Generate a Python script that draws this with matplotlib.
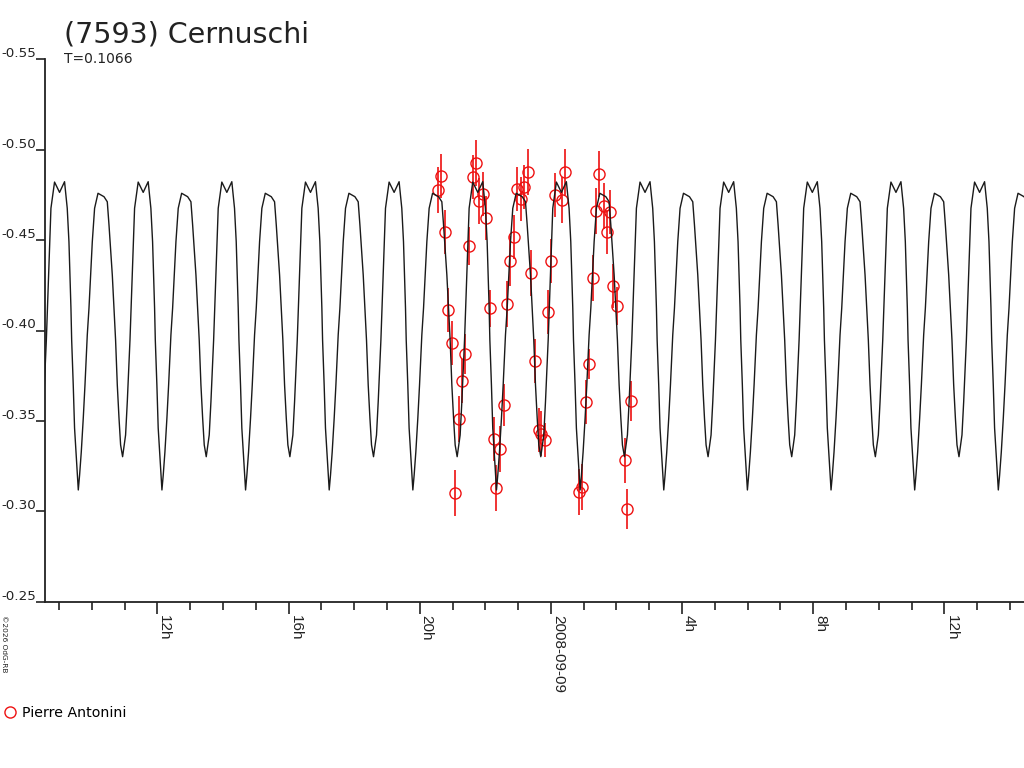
import numpy as np
import matplotlib
matplotlib.use("Agg")
import matplotlib.pyplot as plt
from matplotlib.transforms import blended_transform_factory

# observations (hours from 2008-09-08 0h, relative magnitude, error)
obs_hours = [20.659, 20.567, 20.780, 20.872, 20.994, 21.396, 21.290, 21.189, 21.091,
             21.512, 21.616, 21.726, 21.814, 21.939, 22.030, 22.143, 22.250, 22.448,
             22.341, 22.570, 22.667, 22.768, 22.875, 22.960, 23.088, 23.189, 23.287,
             23.393, 23.500, 23.622, 23.713, 23.829, 23.921, 24.018, 24.131, 24.329,
             24.439, 24.851, 24.957, 25.064, 25.168, 25.274, 25.381, 25.476, 25.613,
             25.817, 25.716, 25.902, 26.021, 26.448, 26.244, 26.335]
obs_mag = [-0.4856, -0.4779, -0.4543, -0.4115, -0.3933, -0.3869, -0.3721, -0.3509, -0.3100,
           -0.4466, -0.4847, -0.4925, -0.4715, -0.4753, -0.4622, -0.4122, -0.3398, -0.3347,
           -0.3127, -0.3587, -0.4146, -0.4384, -0.4516, -0.4784, -0.4726, -0.4793, -0.4878,
           -0.4318, -0.3830, -0.3449, -0.3430, -0.3393, -0.4104, -0.4383, -0.4751, -0.4722,
           -0.4878, -0.3105, -0.3133, -0.3603, -0.3813, -0.4290, -0.4660, -0.4868, -0.4691,
           -0.4655, -0.4546, -0.4246, -0.4133, -0.3609, -0.3281, -0.3011]
obs_err = [0.0122, 0.0127, 0.0122, 0.0122, 0.0122, 0.0110, 0.0122, 0.0127, 0.0127,
           0.0105, 0.0122, 0.0127, 0.0127, 0.0122, 0.0122, 0.0100, 0.0122, 0.0127,
           0.0127, 0.0116, 0.0127, 0.0138, 0.0122, 0.0122, 0.0122, 0.0122, 0.0127,
           0.0127, 0.0122, 0.0122, 0.0122, 0.0094, 0.0122, 0.0122, 0.0122, 0.0127,
           0.0127, 0.0127, 0.0127, 0.0122, 0.0083, 0.0127, 0.0127, 0.0127, 0.0127,
           0.0122, 0.0122, 0.0122, 0.0105, 0.0110, 0.0122, 0.0110]

# fitted lightcurve: one cycle, starting at the deep minimum
period = 2.550
t0 = 9.591
profile_dt = [0.000, 0.040, 0.091, 0.152, 0.204, 0.274, 0.326, 0.375, 0.427, 0.497,
              0.601, 0.784, 0.884, 0.936, 1.037, 1.088, 1.137, 1.189, 1.241, 1.290,
              1.351, 1.442, 1.494, 1.576, 1.646, 1.716, 1.826, 1.979, 2.131, 2.213,
              2.265, 2.296, 2.326, 2.348, 2.396, 2.436, 2.479, 2.518]
profile_mag = [-0.3118, -0.3201, -0.3328, -0.3516, -0.3699, -0.3975, -0.4124, -0.4307,
               -0.4491, -0.4676, -0.4759, -0.4740, -0.4712, -0.4584, -0.4307, -0.4124,
               -0.3947, -0.3699, -0.3516, -0.3367, -0.3302, -0.3422, -0.3606, -0.3947,
               -0.4307, -0.4676, -0.4821, -0.4764, -0.4823, -0.4676, -0.4491, -0.4307,
               -0.4124, -0.3947, -0.3699, -0.3461, -0.3328, -0.3201]

major_hours = [12, 16, 20, 24, 28, 32, 36]
major_labels = ['12h', '16h', '20h', '2008-09-09', '4h', '8h', '12h']
y_values = [-0.55, -0.50, -0.45, -0.40, -0.35, -0.30, -0.25]
observer = 'Pierre Antonini'

plt.rcParams['font.family'] = ['DejaVu Sans']
fig = plt.figure(figsize=(10.24, 7.68), dpi=100)
ax = fig.add_axes([45 / 1024, 1 - 601.7 / 768, 979 / 1024, 542.4 / 768])

cycles = np.arange(-1, 13)
curve_t = (t0 + period * cycles[:, None] + np.array(profile_dt)[None, :]).ravel()
curve_m = np.tile(profile_mag, len(cycles))
ax.plot(curve_t, curve_m, color='#1a1a1a', lw=1.0, zorder=3)

eb = ax.errorbar(obs_hours, obs_mag, yerr=obs_err, fmt='o', ms=8, mfc='none',
                 mec='#ee1111', mew=1.0, ecolor='#ee1111', elinewidth=1.2,
                 capsize=0, zorder=2)

ax.set_xlim(8.576, 38.424)
ax.set_ylim(-0.25, -0.55)

for s in ['top', 'right']:
    ax.spines[s].set_visible(False)
for s in ['left', 'bottom']:
    ax.spines[s].set_color('#222222')
    ax.spines[s].set_linewidth(1.3)

ax.set_xticks(major_hours)
ax.set_xticks(np.arange(9, 39), minor=True)
ax.set_xticklabels(major_labels, rotation=270, ha='left', va='top',
                   family='Liberation Sans', fontsize=11, color='#222222')
ax.tick_params(axis='x', which='major', length=8.6, width=1.2, color='#222222', pad=1)
ax.tick_params(axis='x', which='minor', length=5.8, width=1.2, color='#222222')

ax.set_yticks(y_values)
ax.set_yticklabels([])
ax.tick_params(axis='y', length=6.5, width=1.2, color='#222222')
ytr = blended_transform_factory(fig.transFigure, ax.transData)
for v in y_values:
    ax.annotate(f'{v:.2f}', xy=(36 / 1024, v), xycoords=ytr, xytext=(0, 1.5),
                textcoords='offset points', ha='right', va='baseline',
                fontsize=9.7, color='#222222', annotation_clip=False)

fig.text(64 / 1024, 1 - 42 / 768, '(7593) Cernuschi', fontsize=20.5, color='#222222',
         ha='left', va='baseline')
fig.text(64 / 1024, 1 - 63 / 768, 'T=0.1066', fontsize=10, color='#222222',
         ha='left', va='baseline')
fig.text(0.001, 1 - 615 / 768, '\u00a92026 OdG-RB', fontsize=5.3, color='#222222',
         rotation=270, ha='left', va='top')

ax.legend(handles=[eb[0]], labels=[observer], loc='center left',
          bbox_to_anchor=(0.004, 1 - 713 / 768), bbox_transform=fig.transFigure,
          frameon=False, fontsize=10.2, handlelength=0.9, handletextpad=0.35,
          borderpad=0, borderaxespad=0)

fig.savefig('out.png', dpi=100)
